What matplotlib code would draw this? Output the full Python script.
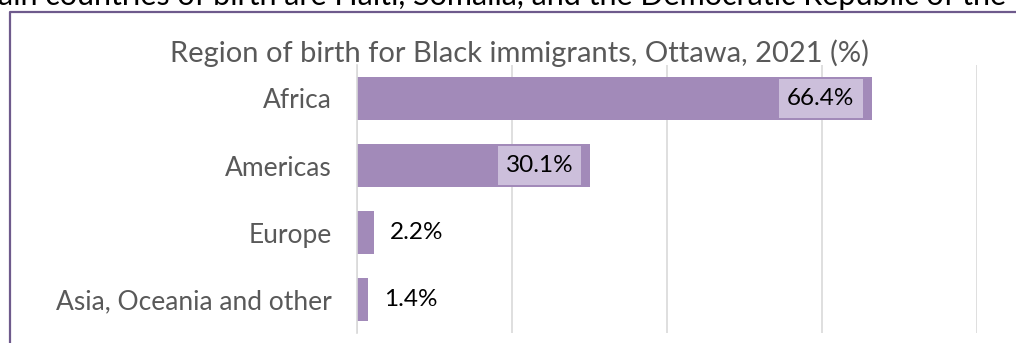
import matplotlib
matplotlib.use("Agg")
import matplotlib.pyplot as plt
from matplotlib.lines import Line2D
from matplotlib.patches import Rectangle

plt.rcParams['font.family'] = ['Lato', 'DejaVu Sans']

regions = ["Africa", "Americas", "Europe", "Asia, Oceania and other"]
shares = [66.4, 30.1, 2.2, 1.4]
title = "Region of birth for Black immigrants, Ottawa, 2021 (%)"
intro = "ain countries of birth are Haiti, Somalia, and the Democratic Republic of the Congo"

bar_color = "#A28AB9"
box_color = "#CCBFDB"
grey = "#595959"
frame_color = "#6E5A8C"

W, H = 1016, 343
fig = plt.figure(figsize=(W / 100, H / 100), dpi=100)

# sentence running in from the text above, clipped at the top edge
fig.text(-2 / W, 1 - 5 / H, intro, fontsize=22, color="black", ha="left", va="baseline")

# frame around the chart
fig.add_artist(Line2D([10 / W, 10 / W, 1.0], [0.0, 1 - 12 / H, 1 - 12 / H],
                      transform=fig.transFigure, color=frame_color, lw=1.6))

ax = fig.add_axes([357 / W, 10 / H, 620 / W, 268 / H])
ypos = range(len(regions))
ax.barh(ypos, shares, height=0.64, color=bar_color, zorder=2)
ax.set_xlim(0, 80)
ax.set_ylim(len(regions) - 0.5, -0.5)
ax.set_xticks([0, 20, 40, 60, 80])
ax.set_xticklabels([])
ax.tick_params(axis="x", length=0)
ax.grid(axis="x", color="#D9D9D9", lw=1.2, zorder=0)
ax.set_yticks(list(ypos))
ax.set_yticklabels(regions, fontsize=19, color=grey)
ax.tick_params(axis="y", length=0, pad=18)
for s in ["top", "right", "bottom"]:
    ax.spines[s].set_visible(False)
ax.spines["left"].set_color("#D9D9D9")
ax.spines["left"].set_linewidth(1.2)
ax.spines["left"].set_zorder(3)

fig.text(519 / W, 1 - 62 / H, title, fontsize=21, color=grey, ha="center", va="baseline")

inside = []
for y, v in zip(ypos, shares):
    label = f"{v:.1f}%"
    if v > 10:
        t = ax.annotate(label, (v, y), xytext=(-17, 0), textcoords="offset pixels",
                        ha="right", va="center", fontsize=17.5, color="black", zorder=4)
        inside.append((t, y))
    else:
        ax.annotate(label, (v, y), xytext=(16, 0), textcoords="offset pixels",
                    ha="left", va="center", fontsize=17.5, color="black", zorder=4)

# light boxes behind the labels that sit inside the bars
fig.canvas.draw()
renderer = fig.canvas.get_renderer()
inv = ax.transData.inverted()
pad = inv.transform((8, 0))[0] - inv.transform((0, 0))[0]
for t, y in inside:
    bb = t.get_window_extent(renderer).transformed(inv)
    ax.add_patch(Rectangle((bb.x0 - pad, y - 0.29), bb.width + 2 * pad, 0.58,
                           facecolor=box_color, edgecolor="none", zorder=3))

fig.savefig("out.png", dpi=100)
